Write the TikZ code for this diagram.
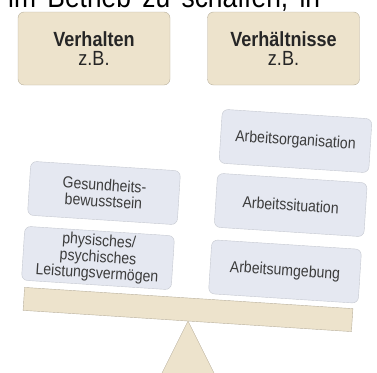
\documentclass[tikz,border=0pt]{standalone}
\usepackage{fontspec}
\setmainfont{Liberation Sans}[FakeStretch=0.88]
\usepackage{xcolor}
\usetikzlibrary{calc}
\definecolor{sand}{HTML}{EDE3CC}
\definecolor{sandline}{HTML}{B9B09D}
\definecolor{mist}{HTML}{E5E8F1}
\definecolor{mistline}{HTML}{C5C8D0}
\definecolor{ink}{HTML}{3C3C3C}

\begin{document}
\begin{tikzpicture}[x=1pt,y=1pt,
  head/.style={draw=sandline,fill=sand,rounded corners=6pt,minimum width=152pt,minimum height=73pt,align=center,font=\fontsize{20.5}{19}\selectfont,text=black!85},
  item/.style={draw=mistline,fill=mist,rounded corners=6pt,minimum width=150pt,minimum height=54pt,align=center,rotate=-3.7,font=\fontsize{16}{16.3}\selectfont,text=ink,inner sep=2pt}]
  \useasboundingbox (0,0) rectangle (377,-372);
  \clip (0,0) rectangle (377,-372);
  \node[anchor=base west,inner sep=0pt,font=\fontsize{30}{30}\selectfont] (intro) at (8,-7) {\hbox to 312pt{im\hfill Betrieb\hfill zu\hfill schaffen,\hfill in}};
  \node[head] (verhalten) at (94,-48.5) {\textbf{Verhalten}\\z.B.};
  \node[head] (verhaeltnisse) at (283.5,-48.5) {\textbf{Verhältnisse}\\z.B.};
  \coordinate (tip) at (188,-321);
  \filldraw[fill=sand,draw=sandline] (tip) -- ++(-32,-64) -- ++(64,0) -- cycle;
  \node[draw=sandline,fill=sand,minimum width=329pt,minimum height=23pt,rotate=-3.7,inner sep=0pt] (beam) at (188,-309.5) {};
  \node[item] (gesund) at (104,-193) {Gesundheits-\\bewusstsein};
  \node[item] (leistung) at (98,-258) {physisches/\\psychisches\\Leistungsvermögen};
  \node[item] (organisation) at (295.5,-141) {Arbeitsorganisation};
  \node[item] (situation) at (290.7,-205) {Arbeitssituation};
  \node[item] (umgebung) at (285,-271.5) {Arbeitsumgebung};
\end{tikzpicture}
\end{document}
